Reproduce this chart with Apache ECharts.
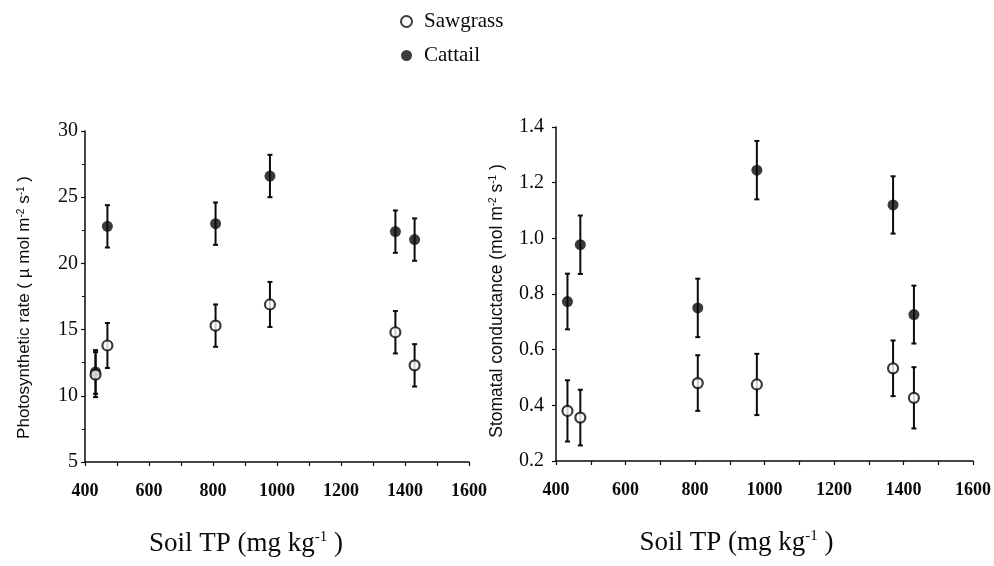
<!DOCTYPE html>
<html>
<head>
<meta charset="utf-8">
<script src="https://cdn.jsdelivr.net/npm/echarts@6/dist/echarts.min.js"></script>
<style>
  html, body { margin: 0; padding: 0; background: #fff; }
  #chart { width: 994px; height: 566px; }
</style>
</head>
<body>
<div id="chart"></div>
<script>
// Soil total phosphorus at each sampling site (mg/kg)
const soilTP = [433, 470, 808, 978, 1370, 1430];

// Photosynthetic rate (umol m-2 s-1), means and error half-widths
const photoSawgrass = [11.6, 13.8, 15.3, 16.9, 14.8, 12.3];
const photoSawgrassErr = [1.7, 1.7, 1.6, 1.7, 1.6, 1.6];
const photoCattail = [11.8, 22.8, 23.0, 26.6, 22.4, 21.8];
const photoCattailErr = [1.65, 1.6, 1.6, 1.6, 1.6, 1.6];

// Stomatal conductance (mol m-2 s-1), means and error half-widths
const condSawgrass = [0.38, 0.356, 0.48, 0.475, 0.533, 0.427];
const condSawgrassErr = [0.11, 0.10, 0.10, 0.11, 0.10, 0.11];
const condCattail = [0.773, 0.977, 0.75, 1.245, 1.12, 0.726];
const condCattailErr = [0.10, 0.105, 0.105, 0.105, 0.103, 0.104];

const SERIF = '"Liberation Serif", "Times New Roman", serif';
const SANS = '"Liberation Sans", Arial, sans-serif';
const INK = '#0a0a0a';

const points = (ys) => soilTP.map((x, i) => [x, ys[i]]);
const ranges = (ys, es) => soilTP.map((x, i) => [x, ys[i] - es[i], ys[i] + es[i]]);

// vertical error bar with small caps
function renderErrorBar(params, api) {
  const x = api.value(0);
  const top = api.coord([x, api.value(2)]);
  const bot = api.coord([x, api.value(1)]);
  const cap = 2.5;
  const style = { stroke: INK, lineWidth: 2 };
  return {
    type: 'group',
    children: [
      { type: 'line', shape: { x1: top[0], y1: top[1], x2: bot[0], y2: bot[1] }, style },
      { type: 'line', shape: { x1: top[0] - cap, y1: top[1], x2: top[0] + cap, y2: top[1] }, style },
      { type: 'line', shape: { x1: bot[0] - cap, y1: bot[1], x2: bot[0] + cap, y2: bot[1] }, style }
    ]
  };
}

function errorSeries(name, data, idx) {
  return {
    name, type: 'custom', xAxisIndex: idx, yAxisIndex: idx,
    renderItem: renderErrorBar, data,
    encode: { x: 0, y: [1, 2] }, z: 2, silent: true
  };
}

const openStyle = { color: '#fff', borderColor: INK, borderWidth: 2.2 };
const filledStyle = { color: INK, borderColor: INK, borderWidth: 0 };

function scatter(name, data, idx, open) {
  return {
    name, type: 'scatter', xAxisIndex: idx, yAxisIndex: idx,
    data, symbol: 'circle', symbolSize: open ? 10 : 11,
    itemStyle: open ? openStyle : filledStyle,
    z: open ? 5 : 4
  };
}

const supRich = { s: { fontSize: 10, verticalAlign: 'top', lineHeight: 12 } };

function xAxis(idx, padRight) {
  return {
    type: 'value', gridIndex: idx, min: 400, max: 1600, interval: 100,
    splitLine: { show: false },
    axisLine: { lineStyle: { color: INK, width: 1.5 } },
    axisTick: { length: 4, lineStyle: { color: INK, width: 1.2 } },
    axisLabel: {
      margin: 20, color: INK, fontFamily: SERIF, fontWeight: 'bold', fontSize: 18,
      formatter: (v) => (v % 200 === 0 ? String(v) : '')
    },
    name: 'Soil TP (mg kg{s|-1} )',
    nameLocation: 'middle', nameGap: 68,
    nameTextStyle: {
      fontFamily: SERIF, fontSize: 27, color: INK,
      padding: [0, padRight, 0, 0],
      rich: { s: { fontSize: 15, verticalAlign: 'top', fontFamily: SERIF, lineHeight: 16 } }
    }
  };
}

const chart = echarts.init(document.getElementById('chart'));
chart.setOption({
  backgroundColor: '#fff',
  animation: false,
  legend: {
    orient: 'vertical', left: 395, top: 6, itemGap: 13,
    itemWidth: 25, itemHeight: 11,
    data: ['Sawgrass', 'Cattail'],
    textStyle: { fontFamily: SERIF, fontSize: 21, color: INK }
  },
  grid: [
    { left: 85, top: 131, width: 384, height: 331 },
    { left: 556, top: 127, width: 419, height: 334 }
  ],
  xAxis: [xAxis(0, 62), xAxis(1, 56)],
  yAxis: [
    {
      type: 'value', gridIndex: 0, min: 5, max: 30, interval: 5,
      splitLine: { show: false },
      axisLine: { show: true, lineStyle: { color: INK, width: 1.5 } },
      axisTick: { show: true, length: 4, lineStyle: { color: INK, width: 1.2 } },
      minorTick: { show: true, splitNumber: 2, length: 3, lineStyle: { color: INK, width: 1 } },
      axisLabel: { margin: 7, color: INK, fontFamily: SERIF, fontSize: 20 },
      name: 'Photosynthetic rate ( \u00b5 mol m{s|-2} s{s|-1} )',
      nameLocation: 'middle', nameRotate: 90, nameGap: 52,
      nameTextStyle: { fontFamily: SANS, fontSize: 17, color: INK, padding: [0, 22, 0, 0], rich: supRich }
    },
    {
      type: 'value', gridIndex: 1, min: 0.2, max: 1.4, interval: 0.2,
      splitLine: { show: false },
      axisLine: { show: true, lineStyle: { color: INK, width: 1.5 } },
      axisTick: { show: true, length: 4, lineStyle: { color: INK, width: 1.2 } },
      axisLabel: { margin: 12, color: INK, fontFamily: SERIF, fontSize: 20,
        formatter: (v) => v.toFixed(1) },
      name: 'Stomatal conductance (mol m{s|-2} s{s|-1} )',
      nameLocation: 'middle', nameRotate: 90, nameGap: 50,
      nameTextStyle: { fontFamily: SANS, fontSize: 17.5, color: INK, padding: [0, 14, 0, 0], rich: supRich }
    }
  ],
  series: [
    errorSeries('Cattail photosynthesis SE', ranges(photoCattail, photoCattailErr), 0),
    errorSeries('Sawgrass photosynthesis SE', ranges(photoSawgrass, photoSawgrassErr), 0),
    scatter('Cattail', points(photoCattail), 0, false),
    scatter('Sawgrass', points(photoSawgrass), 0, true),
    errorSeries('Cattail conductance SE', ranges(condCattail, condCattailErr), 1),
    errorSeries('Sawgrass conductance SE', ranges(condSawgrass, condSawgrassErr), 1),
    scatter('Cattail', points(condCattail), 1, false),
    scatter('Sawgrass', points(condSawgrass), 1, true)
  ]
});
</script>
</body>
</html>
